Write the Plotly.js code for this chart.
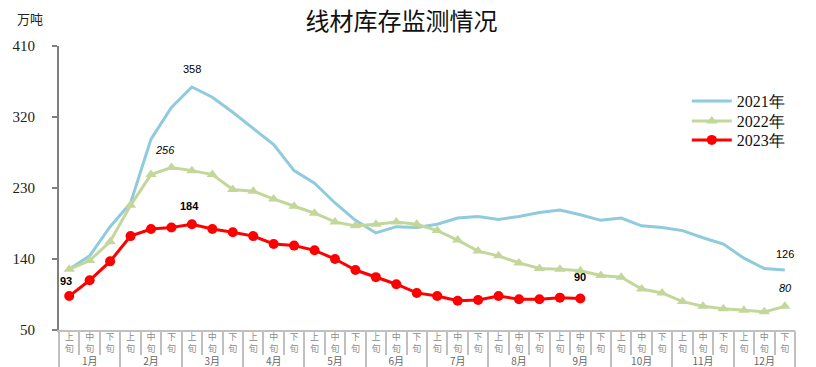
<!DOCTYPE html>
<html>
<head>
<meta charset="utf-8">
<script src="https://cdn.plot.ly/plotly-3.0.1.min.js"></script>
<style>
html,body{margin:0;padding:0;background:#fff;}
#chart{width:816px;height:367px;}
</style>
</head>
<body>
<div id="chart"></div>
<script>
var months = ['1月','2月','3月','4月','5月','6月','7月','8月','9月','10月','11月','12月'];
var periods = ['上<br>旬','中<br>旬','下<br>旬'];

var y2021 = [127,144,181,211,292,332,358,345,326,306,285,252,236,211,189,173,181,180,
             184,192,194,190,194,199,202,196,189,192,182,180,176,167,159,141,128,126];
var y2022 = [127,138,162,208,247,256,252,247,228,226,216,207,198,187,182,184,187,184,
             176,164,150,144,135,128,127,125,119,117,102,97,86,80,77,75,73,80];
var y2023 = [93,113,137,169,178,180,184,178,174,169,159,157,151,140,126,117,108,97,
             93,87,88,93,89,89,91,90];

// category slots (上/中/下旬 of each month), positioned by index on the axis
var slotText = [], slotIdx = [];
months.forEach(function(m, mi){ periods.forEach(function(p, pi){ slotText.push(p); slotIdx.push(mi*3+pi); }); });
var slotBounds = slotIdx.map(function(i){ return i-0.5; }).concat([slotIdx.length-0.5]);
var monthCenters = months.map(function(m, mi){ return mi*3+1; });
var monthBounds = months.map(function(m, mi){ return mi*3-0.5; }).concat([months.length*3-0.5]);
var xr = [-0.5, slotIdx.length-0.5];

function idx(arr){ return arr.map(function(v,i){ return slotIdx[i]; }); }

var serif = '"Liberation Serif","DejaVu Serif",serif';
var sans = '"Liberation Sans",Arial,sans-serif';
var cjk = '"Noto Sans CJK SC",sans-serif';

var traces = [
  {name:'2021年', x:idx(y2021), y:y2021, type:'scatter', mode:'lines', legend:'legend',
   line:{color:'#8FCBDC', width:3}},
  {name:'2022年', x:idx(y2022), y:y2022, type:'scatter', mode:'lines+markers', legend:'legend2',
   line:{color:'#C4D79B', width:3}, marker:{symbol:'triangle-up', size:10, color:'#C4D79B'}},
  {name:'2023年', x:idx(y2023), y:y2023, type:'scatter', mode:'lines+markers', legend:'legend3',
   line:{color:'#FF0000', width:3}, marker:{symbol:'circle', size:10, color:'#FF0000'}},
  {x:xr, y:[null,null], xaxis:'x2', yaxis:'y', type:'scatter', mode:'lines', showlegend:false, hoverinfo:'skip'}
];

function lab(i, val, txt, style, dy, dx){
  return {xref:'x', yref:'y', x:slotIdx[i], y:val, text:txt, showarrow:false,
          yshift:dy, xshift:dx||0,
          font:{family:sans, size:11, color:'#000', style:style.italic?'italic':'normal', weight:style.bold?'bold':'normal'}};
}

var annotations = [
  lab(6, y2021[6], '358', {}, 18, 0),
  lab(5, y2022[5], '256', {italic:true}, 17, -6),
  lab(6, y2023[6], '184', {bold:true}, 18, -2),
  lab(0, y2023[0], '93', {bold:true}, 15, -3),
  lab(25, y2023[25], '90', {bold:true}, 21, 0),
  lab(35, y2021[35], '126', {}, 16, 0),
  lab(35, y2022[35], '80', {italic:true}, 18, 1),
  {xref:'paper', yref:'paper', x:-0.04, y:1.0, yshift:28, xanchor:'center', yanchor:'middle',
   text:'万吨', showarrow:false, font:{family:cjk, size:13, color:'#222'}}
];

function leg(yc){
  return {x:0.853, xanchor:'left', y:yc, yanchor:'middle', bgcolor:'rgba(0,0,0,0)',
          font:{family:serif, size:16, color:'#111'}, itemwidth:40};
}

var gridGray = '#C0C0C0';
var layout = {
  width:816, height:367,
  margin:{l:59, r:21, t:46, b:37},
  paper_bgcolor:'#fff', plot_bgcolor:'#fff',
  title:{text:'线材库存监测情况', x:0.492, xanchor:'center', y:0.94, yanchor:'middle',
         font:{family:cjk, size:24, color:'#111'}},
  showlegend:true,
  legend:leg(0.806), legend2:leg(0.736), legend3:leg(0.669),
  xaxis:{type:'linear', range:xr, tickmode:'array', tickvals:slotIdx, ticktext:slotText,
         ticks:'', tickangle:0, ticklabelstandoff:-3,
         tickfont:{family:cjk, size:9, color:'#8C8C8C'},
         showline:true, linecolor:gridGray, linewidth:2, showgrid:false, zeroline:false,
         minor:{tickmode:'array', tickvals:slotBounds, ticks:'outside', ticklen:23, tickwidth:2, tickcolor:gridGray, showgrid:false}},
  xaxis2:{type:'linear', overlaying:'x', anchor:'y', side:'bottom', range:xr,
          tickmode:'array', tickvals:monthCenters, ticktext:months,
          ticks:'', tickangle:0, ticklabelstandoff:24,
          tickfont:{family:cjk, size:10, color:'#666'},
          showline:false, showgrid:false, zeroline:false,
          minor:{tickmode:'array', tickvals:monthBounds, ticks:'outside', ticklen:37, tickwidth:2, tickcolor:gridGray, showgrid:false}},
  yaxis:{range:[50,410], tickmode:'array', tickvals:[50,140,230,320,410], ticktext:['50','140','230','320','410'],
         showline:true, linecolor:'#808080', linewidth:2, ticks:'outside', ticklen:5,
         tickcolor:'#808080', tickwidth:2, showgrid:false, zeroline:false,
         tickfont:{family:serif, size:15, color:'#222'}, ticklabelstandoff:14},
  annotations:annotations
};

Plotly.newPlot('chart', traces, layout, {displayModeBar:false, staticPlot:true});
</script>
</body>
</html>
